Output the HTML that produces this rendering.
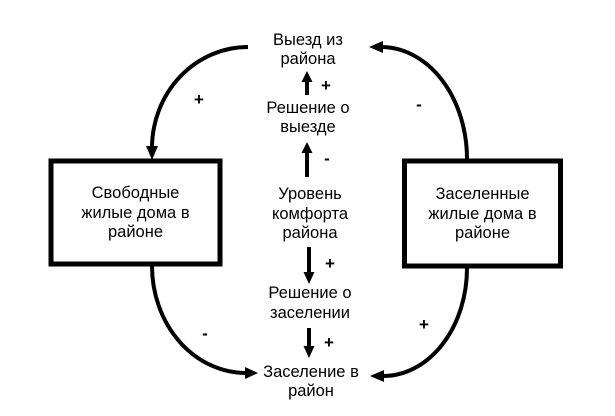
<!DOCTYPE html>
<html>
<head>
<meta charset="utf-8">
<style>
  html, body { margin:0; padding:0; background:#ffffff; }
  body { width:615px; height:416px; overflow:hidden; }
  svg { display:block; }
  text { font-family: "Liberation Sans", Arial, sans-serif; font-size:16.5px; fill:#000; }
  text.s { font-size:17px; font-weight:bold; }
</style>
</head>
<body>
<svg width="615" height="416" viewBox="0 0 615 416" xmlns="http://www.w3.org/2000/svg">
  <rect x="0" y="0" width="615" height="416" fill="#ffffff"/>

  <!-- Boxes -->
  <rect x="51" y="161" width="169" height="103" fill="none" stroke="#000" stroke-width="5"/>
  <rect x="404.5" y="161" width="156" height="105" fill="none" stroke="#000" stroke-width="5"/>

  <!-- Box texts -->
  <text x="135.5" y="198" text-anchor="middle">Свободные</text>
  <text x="135.5" y="218" text-anchor="middle">жилые дома в</text>
  <text x="135.5" y="237" text-anchor="middle">районе</text>

  <text x="482.5" y="199" text-anchor="middle">Заселенные</text>
  <text x="482.5" y="219" text-anchor="middle">жилые дома в</text>
  <text x="482.5" y="238" text-anchor="middle">районе</text>

  <!-- Center column texts -->
  <text x="308" y="45" text-anchor="middle">Выезд из</text>
  <text x="308" y="64" text-anchor="middle">района</text>

  <text x="308" y="113" text-anchor="middle">Решение о</text>
  <text x="308" y="132" text-anchor="middle">выезде</text>

  <text x="310" y="199" text-anchor="middle">Уровень</text>
  <text x="310" y="219" text-anchor="middle">комфорта</text>
  <text x="310" y="238" text-anchor="middle">района</text>

  <text x="310" y="298" text-anchor="middle">Решение о</text>
  <text x="310" y="318" text-anchor="middle">заселении</text>

  <text x="311" y="377" text-anchor="middle">Заселение в</text>
  <text x="311" y="396" text-anchor="middle">район</text>

  <!-- Center arrows -->
  <line x1="307" y1="95" x2="307" y2="80" stroke="#000" stroke-width="4"/>
  <polygon points="301.5,82 312.5,82 307,71" fill="#000"/>

  <line x1="307" y1="177" x2="307" y2="151" stroke="#000" stroke-width="4"/>
  <polygon points="301.5,153 312.5,153 307,142" fill="#000"/>

  <line x1="309" y1="247" x2="309" y2="274" stroke="#000" stroke-width="4"/>
  <polygon points="303.5,272 314.5,272 309,284" fill="#000"/>

  <line x1="309" y1="328" x2="309" y2="348" stroke="#000" stroke-width="4"/>
  <polygon points="303.5,346 314.5,346 309,358" fill="#000"/>

  <!-- Center signs -->
  <text class="s" x="326" y="91" text-anchor="middle">+</text>
  <text class="s" x="327" y="164" text-anchor="middle">-</text>
  <text class="s" x="330" y="269" text-anchor="middle">+</text>
  <text class="s" x="329" y="348" text-anchor="middle">+</text>

  <!-- Curved connectors -->
  <path d="M248,47 A96,101 0 0 0 152,148" fill="none" stroke="#000" stroke-width="4"/>
  <polygon points="146,146 158,146 152,160" fill="#000"/>
  <text class="s" x="199" y="105" text-anchor="middle">+</text>

  <path d="M467,159 A86,112 0 0 0 381,47" fill="none" stroke="#000" stroke-width="4"/>
  <polygon points="383,41 383,53 369,47" fill="#000"/>
  <text class="s" x="419" y="110" text-anchor="middle">-</text>

  <path d="M152,266 A94,107 0 0 0 246,373" fill="none" stroke="#000" stroke-width="4"/>
  <polygon points="245,367 245,379 258,373" fill="#000"/>
  <text class="s" x="205" y="339" text-anchor="middle">-</text>

  <path d="M467,268 A84,108 0 0 1 383,376" fill="none" stroke="#000" stroke-width="4"/>
  <polygon points="384,370 384,382 370,376" fill="#000"/>
  <text class="s" x="424" y="330" text-anchor="middle">+</text>
</svg>
</body>
</html>
